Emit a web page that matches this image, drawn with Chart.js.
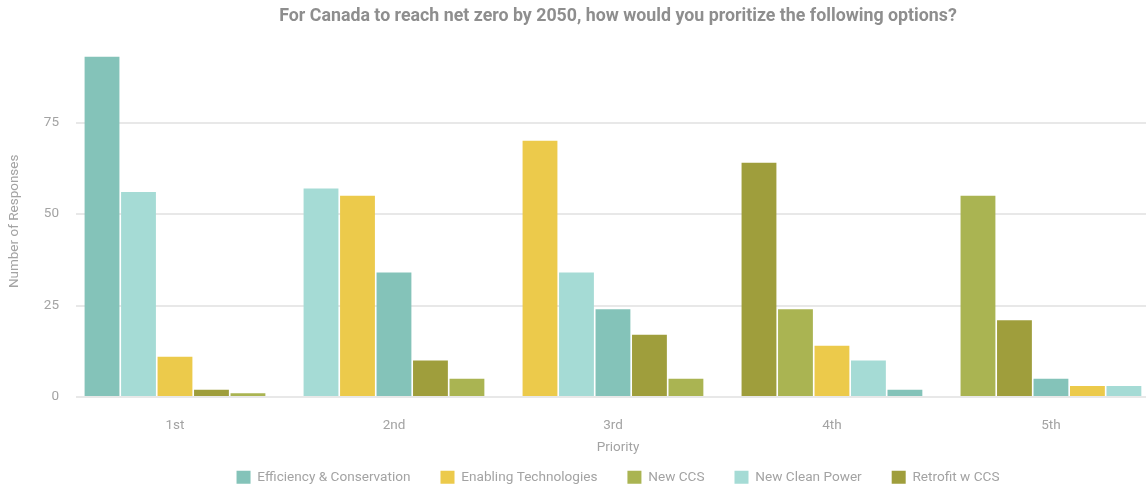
<!DOCTYPE html>
<html>
<head>
<meta charset="utf-8">
<script src="https://cdn.jsdelivr.net/npm/chart.js@4"></script>
<style>
    html, body { margin: 0; padding: 0; background: #fff; overflow: hidden; }
    #wrap { width: 1146px; height: 486px; overflow: hidden; }
    canvas { display: block; }
</style>
</head>
<body>
<div id="wrap"><canvas id="chart" width="1160" height="494"></canvas></div>
<script>
// Réponses par priorité
const priorities = ['1st', '2nd', '3rd', '4th', '5th'];
const efficiencyConservation = [93, 34, 24, 2, 5];
const enablingTechnologies = [11, 55, 70, 14, 3];
const newCcs = [1, 5, 5, 24, 55];
const newCleanPower = [56, 57, 34, 10, 3];
const retrofitCcs = [2, 10, 17, 64, 21];
const yTicks = [0, 25, 50, 75];

const series = [
    { label: 'Efficiency & Conservation', data: efficiencyConservation, color: '#84c3b9' },
    { label: 'Enabling Technologies', data: enablingTechnologies, color: '#ecca4b' },
    { label: 'New CCS', data: newCcs, color: '#aab452' },
    { label: 'New Clean Power', data: newCleanPower, color: '#a5dbd5' },
    { label: 'Retrofit w CCS', data: retrofitCcs, color: '#9f9e3c' }
];

const FONT = 'Roboto, "DejaVu Sans", sans-serif';
const GREY = '#a3a3a3';

// Dans chaque groupe les barres sont triées de la plus grande à la plus petite :
// un dataset par rang, la couleur suit la série qui occupe ce rang.
const rankDatasets = series.map((_, rank) => ({
    label: 'rank' + rank,
    data: [],
    backgroundColor: [],
    borderWidth: 0
}));
priorities.forEach((p, i) => {
    const sorted = series
        .map((s, k) => ({ k, value: s.data[i], color: s.color }))
        .sort((a, b) => b.value - a.value || a.k - b.k);
    sorted.forEach((s, rank) => {
        rankDatasets[rank].data.push({ x: i, y: s.value });
        rankDatasets[rank].backgroundColor.push(s.color);
    });
});

const ctx = document.getElementById('chart').getContext('2d');
new Chart(ctx, {
    type: 'bar',
    data: { datasets: rankDatasets },
    options: {
        responsive: false,
        animation: false,
        categoryPercentage: 0.833,
        barPercentage: 0.955,
        layout: { padding: 0 },
        plugins: {
            tooltip: { enabled: false },
            title: {
                display: true,
                fullSize: false,
                text: 'For Canada to reach net zero by 2050, how would you proritize the following options?',
                color: '#8e8e8e',
                font: { family: FONT, size: 17.8, weight: 'bold', lineHeight: 1.2 },
                padding: { top: 6, bottom: 18.3 }
            },
            legend: {
                position: 'bottom',
                fullSize: false,
                labels: {
                    color: GREY,
                    font: { family: FONT, size: 13.6 },
                    boxWidth: 14,
                    boxHeight: 13,
                    padding: 30,
                    generateLabels: () => series.map((s, k) => ({
                        text: s.label,
                        fillStyle: s.color,
                        strokeStyle: s.color,
                        lineWidth: 0,
                        hidden: false,
                        fontColor: GREY,
                        datasetIndex: k
                    }))
                },
                onClick: () => {}
            }
        },
        scales: {
            x: {
                type: 'linear',
                offset: false,
                min: -0.452,
                max: 4.498,
                grid: { display: false },
                border: { display: false },
                ticks: {
                    stepSize: 1,
                    includeBounds: false,
                    color: GREY,
                    padding: 13,
                    font: { family: FONT, size: 13.5 },
                    callback: v => priorities[v] ?? ''
                },
                title: {
                    display: true,
                    text: 'Priority',
                    color: GREY,
                    font: { family: FONT, size: 13.5, lineHeight: 1.2 },
                    padding: { top: 0, bottom: -15.5 }
                },
                afterFit: s => { s.height = 43.4; }
            },
            y: {
                min: 0,
                max: 96,
                grid: { color: '#e8e8e8', lineWidth: 2, drawTicks: false },
                border: { display: false },
                afterBuildTicks: s => { s.ticks = yTicks.map(v => ({ value: v })); },
                ticks: {
                    color: GREY,
                    padding: 17,
                    font: { family: FONT, size: 13.5 }
                },
                title: {
                    display: true,
                    text: 'Number of Responses',
                    color: GREY,
                    font: { family: FONT, size: 13.5, lineHeight: 1.2 },
                    padding: { top: 7, bottom: 0 }
                },
                afterFit: s => { s.width = 76; }
            }
        }
    }
});
</script>
</body>
</html>
